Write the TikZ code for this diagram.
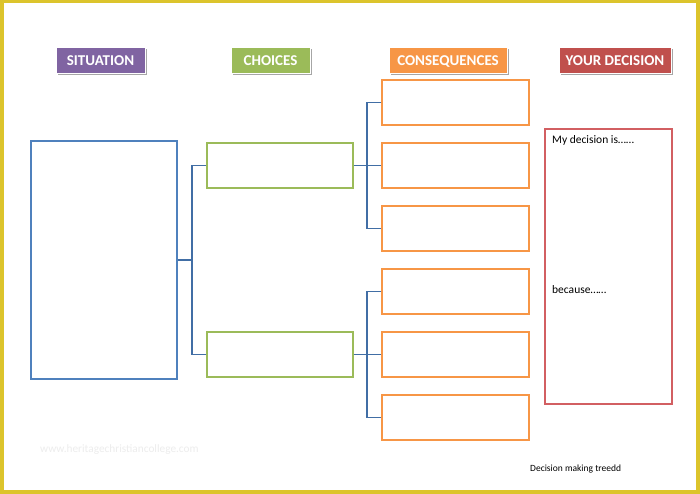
\documentclass[tikz,border=0pt]{standalone}
\usepackage{fontspec}
\setmainfont{Carlito}
\begin{document}
\begin{tikzpicture}[x=1pt,y=-1pt,
  hdr/.style={text=white,font=\fontsize{15}{17}\selectfont\bfseries,inner sep=0pt,anchor=base},
  sitbox/.style={draw=sitblue,line width=1.3pt},
  chbox/.style={draw=chgreen,line width=1.3pt},
  cqbox/.style={draw=cqorange,line width=1.3pt},
  decbox/.style={draw=decred,line width=1.3pt},
  conn/.style={draw=connblue,line width=1.4pt},
  bodytxt/.style={font=\fontsize{11.5}{13}\selectfont,anchor=base west,inner sep=0pt}]
\definecolor{frameyellow}{RGB}{220,196,44}
\definecolor{sitpurple}{RGB}{128,100,162}
\definecolor{chgreen}{RGB}{155,187,89}
\definecolor{cqorange}{RGB}{247,150,70}
\definecolor{decredfill}{RGB}{192,80,77}
\definecolor{decred}{RGB}{210,95,98}
\definecolor{sitblue}{RGB}{79,129,189}
\definecolor{connblue}{RGB}{65,110,165}
\useasboundingbox (0,0) rectangle (700,494);
% frame
\fill[frameyellow] (0,0) rectangle (700,494);
\fill[white] (4,3) rectangle (696,490);
% headers with shadow
\foreach \x/\y/\X/\Y/\c in {56/47/145/73/sitpurple,231/47/310/73/chgreen,389/47/507/73/cqorange,559/47/671/73/decredfill}{
  \fill[black!35] (\x+1.5,\y+2.5) rectangle (\X+1.5,\Y+2.5);
  \fill[\c,draw=white,line width=0.8pt] (\x,\y) rectangle (\X,\Y);
}
\node[hdr] (hsit) at (100.5,65.3) {SITUATION};
\node[hdr] (hch) at (270.5,65.3) {CHOICES};
\node[hdr] (hcq) at (448,65.3) {CONSEQUENCES};
\node[hdr] (hdec) at (615,65.3) {YOUR DECISION};
% situation
\node[sitbox,minimum width=146pt,minimum height=238pt,inner sep=0pt] (sit) at (104,260) {};
% choices
\node[chbox,minimum width=146pt,minimum height=45pt,inner sep=0pt] (c1) at (280,165.5) {};
\node[chbox,minimum width=146pt,minimum height=45pt,inner sep=0pt] (c2) at (280,354.5) {};
% consequences
\foreach \i/\yy in {1/102.5,2/165.5,3/228.5,4/291.5,5/354.5,6/417.5}{
  \node[cqbox,minimum width=147pt,minimum height=45pt,inner sep=0pt] (q\i) at (455.5,\yy) {};
}
% connectors
\coordinate (j0) at (192,260);
\draw[conn] (sit.east) -- (j0);
\draw[conn] (c1.west) -| (j0) |- (c2.west);
\coordinate (j1) at (367,165.5);
\coordinate (j2) at (367,354.5);
\draw[conn] (c1.east) -- (j1);
\draw[conn] (q1.west) -| (j1) |- (q3.west);
\draw[conn] (j1) -- (q2.west);
\draw[conn] (c2.east) -- (j2);
\draw[conn] (q4.west) -| (j2) |- (q6.west);
\draw[conn] (j2) -- (q5.west);
% decision
\node[decbox,minimum width=127pt,minimum height=275pt,inner sep=0pt] (dec) at (608.5,266.5) {};
\node[bodytxt] (t1) at (552,144) {My decision is……};
\node[bodytxt] (t2) at (552,293) {because……};
% watermark and footer
\node[font=\fontsize{11.3}{13}\selectfont,text=black!7,anchor=base west,inner sep=0pt] (wm) at (40,452) {www.heritagechristiancollege.com};
\node[font=\fontsize{9.5}{11}\selectfont,anchor=base west,inner sep=0pt] (ft) at (530,471) {Decision making treedd};
\end{tikzpicture}
\end{document}
